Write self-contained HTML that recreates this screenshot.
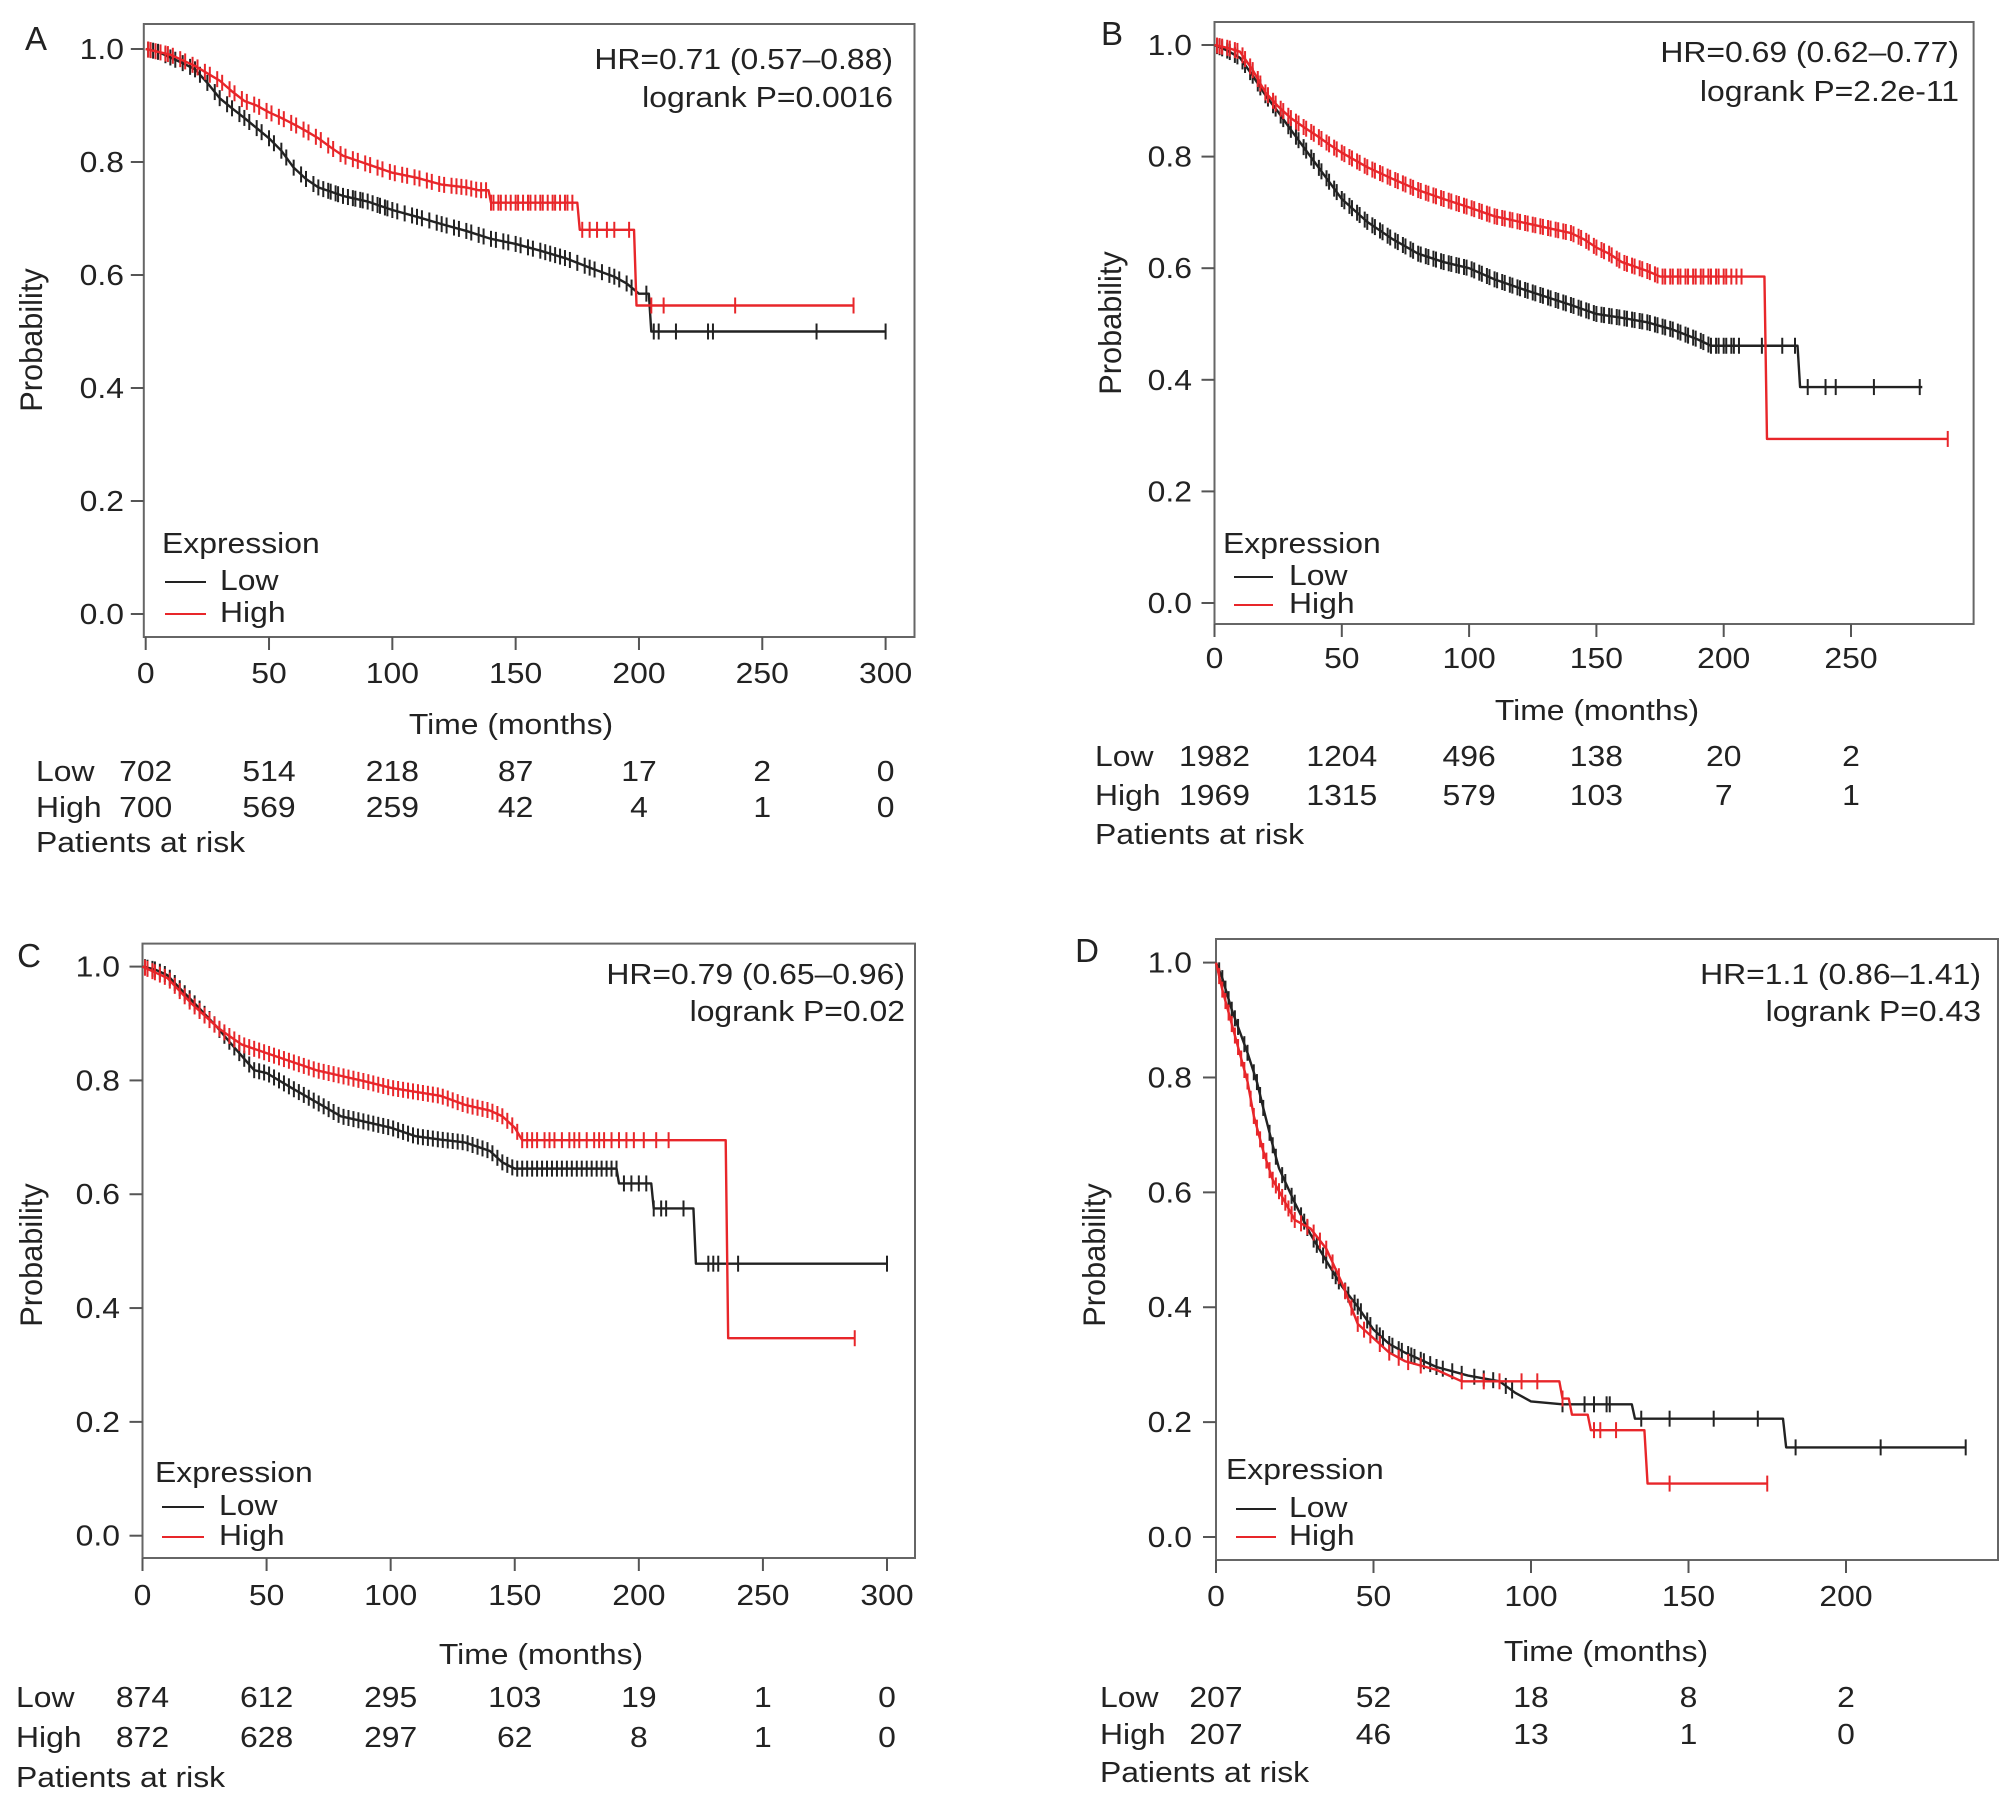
<!DOCTYPE html>
<html><head><meta charset="utf-8">
<style>
html,body{margin:0;padding:0;background:#fff;}
svg{display:block;}
text{font-family:"Liberation Sans",Arial,sans-serif;font-size:29px;fill:#222;}
</style></head>
<body>
<svg id="fig" xmlns="http://www.w3.org/2000/svg" width="2008" height="1818" viewBox="0 0 2008 1818"></svg>
<script>
// ---------- DATA ----------
// Panel A
const aLowT = [0,5,10,15,20,25,30,35,40,45,50,55,60,65,70,80,90,100,110,120,130,140,150,160,170,180,190,195,200,204,205,300];
const aLowS = [1,0.995,0.985,0.975,0.964,0.94,0.913,0.895,0.878,0.86,0.842,0.82,0.79,0.77,0.755,0.74,0.73,0.715,0.703,0.69,0.678,0.664,0.655,0.643,0.63,0.613,0.597,0.585,0.567,0.567,0.50,0.50];
const aHighT = [0,5,10,15,20,25,30,35,40,45,50,55,60,65,70,75,80,90,100,110,120,130,135,139,140,175,176,198,199,287];
const aHighS = [1,0.995,0.99,0.98,0.97,0.957,0.944,0.925,0.908,0.9,0.888,0.878,0.867,0.855,0.842,0.826,0.811,0.796,0.781,0.772,0.76,0.755,0.75,0.75,0.728,0.728,0.68,0.68,0.546,0.546];
const aLowC = [1,3,5,8,10,12,15,18,20,22,25,28,30,33,35,38,40,42,45,47,50,52,55,57,60,63,65,68,70,72,74,75,77,78,80,82,84,85,87,88,90,92,94,95,97,98,100,102,105,108,110,112,115,118,120,122,125,127,130,132,135,137,140,142,145,147,150,152,155,157,160,162,164,166,168,170,172,175,178,180,182,185,188,190,192,195,197,203,206,208,215,228,230,272,300];
const aHighC = [1,2,4,6,8,9,11,14,16,19,21,24,26,29,31,34,36,39,41,44,46,49,51,54,56,59,61,64,66,69,71,74,76,79,81,84,86,89,91,94,96,99,101,104,106,109,111,114,116,119,121,124,126,128,130,132,134,136,138,140,141,143,144,146,148,150,151,153,155,156,158,160,161,163,165,166,168,170,171,173,177,180,183,187,190,196,205,210,239,287];
const aRiskLow = ["702","514","218","87","17","2","0"];
const aRiskHigh = ["700","569","259","42","4","1","0"];
const aXTicks = [0,50,100,150,200,250,300];
// Panel B
const bLowT = [0,5,10,15,20,25,30,35,40,45,50,60,70,80,90,100,110,120,130,140,150,160,170,180,190,195,229,230,278];
const bLowS = [1,0.99,0.977,0.945,0.91,0.88,0.848,0.817,0.786,0.755,0.724,0.683,0.652,0.626,0.611,0.6,0.58,0.564,0.549,0.534,0.518,0.511,0.503,0.49,0.472,0.461,0.461,0.387,0.387];
const bHighT = [0,5,10,15,20,25,30,35,40,45,50,60,70,80,90,100,110,120,130,140,145,150,155,160,170,175,216,217,288];
const bHighS = [1,0.995,0.988,0.955,0.915,0.89,0.869,0.853,0.838,0.822,0.807,0.781,0.76,0.74,0.724,0.709,0.693,0.683,0.673,0.663,0.652,0.637,0.626,0.611,0.595,0.585,0.585,0.294,0.294];
const bLowC = [1,2,3,5,6,8,9,11,12,14,15,17,18,20,21,23,24,26,27,29,30,32,33,35,36,38,39,41,42,44,45,47,48,50,51,53,54,56,57,59,60,62,63,65,66,68,69,71,72,74,75,77,78,80,81,83,84,86,87,89,90,92,93,95,96,98,99,101,102,104,105,107,108,110,111,113,114,116,117,119,120,122,123,125,126,128,129,131,132,134,135,137,138,140,141,143,144,146,147,149,150,152,153,155,156,158,159,161,162,164,165,167,168,170,171,173,174,176,177,179,180,182,183,185,186,188,189,191,192,194,195,197,198,200,201,203,204,206,215,223,228,233,240,244,259,277];
const bHighC = [1,2,3,5,6,8,9,11,12,14,15,17,18,20,21,23,24,26,27,29,30,32,33,35,36,38,39,41,42,44,45,47,48,50,51,53,54,56,57,59,60,62,63,65,66,68,69,71,72,74,75,77,78,80,81,83,84,86,87,89,90,92,93,95,96,98,99,101,102,104,105,107,108,110,111,113,114,116,117,119,120,122,123,125,126,128,129,131,132,134,135,137,138,140,141,143,144,146,147,149,150,152,153,155,156,158,159,161,162,164,165,167,168,170,171,173,174,176,177,179,180,182,183,185,186,188,189,191,192,194,195,197,198,200,201,203,205,207,288];
const bRiskLow = ["1982","1204","496","138","20","2"];
const bRiskHigh = ["1969","1315","579","103","7","1"];
const bXTicks = [0,50,100,150,200,250];
// Panel C
const cLowT = [0,5,10,15,20,25,30,35,40,45,50,60,70,80,90,100,110,120,130,140,145,150,191,192,205,206,222,223,300];
const cLowS = [1,0.995,0.985,0.962,0.94,0.917,0.894,0.868,0.843,0.818,0.813,0.787,0.762,0.737,0.727,0.717,0.702,0.696,0.691,0.676,0.656,0.645,0.645,0.619,0.619,0.575,0.575,0.478,0.478];
const cHighT = [0,5,10,15,20,25,30,35,40,50,60,70,80,90,100,110,120,130,140,145,150,153,235,236,287];
const cHighS = [1,0.99,0.98,0.957,0.934,0.914,0.894,0.878,0.863,0.848,0.833,0.818,0.808,0.798,0.787,0.78,0.773,0.757,0.747,0.737,0.717,0.695,0.695,0.347,0.347];
const cLowC = [1,2,4,5,7,9,11,13,15,17,19,21,23,25,27,29,31,33,35,37,39,41,43,45,47,49,51,53,55,57,59,61,63,65,67,69,71,73,75,77,79,81,83,85,87,89,91,93,95,97,99,101,103,105,107,109,111,113,115,117,119,121,123,125,127,129,131,133,135,137,139,141,143,145,147,149,151,153,155,157,159,161,163,165,167,169,171,173,175,177,179,181,183,185,187,189,191,194,197,200,203,206,209,211,218,228,230,232,240,300];
const cHighC = [1,2,4,5,7,9,11,13,15,17,19,21,23,25,27,29,31,33,35,37,39,41,43,45,47,49,51,53,55,57,59,61,63,65,67,69,71,73,75,77,79,81,83,85,87,89,91,93,95,97,99,101,103,105,107,109,111,113,115,117,119,121,123,125,127,129,131,133,135,137,139,141,143,145,147,149,151,153,155,157,159,162,164,166,169,172,174,176,179,182,184,186,189,192,195,198,202,207,212,287];
const cRiskLow = ["874","612","295","103","19","1","0"];
const cRiskHigh = ["872","628","297","62","8","1","0"];
const cXTicks = [0,50,100,150,200,250,300];
// Panel D
const dLowT = [0,2,5,8,10,13,15,18,20,25,30,35,40,45,50,55,60,70,80,90,95,100,110,132,133,180,181,238];
const dLowS = [1,0.973,0.918,0.873,0.843,0.792,0.747,0.682,0.642,0.582,0.527,0.481,0.436,0.401,0.361,0.336,0.321,0.296,0.281,0.271,0.251,0.236,0.231,0.231,0.206,0.206,0.156,0.156];
const dHighT = [0,2,5,8,10,12,15,18,20,25,30,35,40,45,50,55,60,70,78,109,110,112,113,118,119,136,137,175];
const dHighS = [1,0.953,0.893,0.833,0.793,0.733,0.672,0.622,0.602,0.552,0.537,0.502,0.442,0.371,0.346,0.321,0.306,0.291,0.271,0.271,0.241,0.241,0.213,0.213,0.186,0.186,0.093,0.093];
const dLowC = [1,2,3,4,5,6,7,9,10,12,13,14,15,17,18,19,21,22,24,25,27,28,29,31,32,34,35,37,38,39,41,42,44,45,46,48,49,51,52,53,55,56,58,59,61,62,63,65,66,68,70,72,75,78,82,85,88,92,94,110,117,120,124,125,135,144,158,172,184,211,238];
const dHighC = [1,2,3,4,5,6,7,8,9,10,11,12,13,14,15,16,17,18,19,20,21,22,23,24,25,27,29,31,33,35,37,39,41,43,45,47,49,52,55,58,61,65,78,85,90,97,102,110,120,122,127,144,175];
const dRiskLow = ["207","52","18","8","2"];
const dRiskHigh = ["207","46","13","1","0"];
const dXTicks = [0,50,100,150,200];
const yTicks = [0,0.2,0.4,0.6,0.8,1.0];
const yTickLabels = ["0.0","0.2","0.4","0.6","0.8","1.0"];

// ---------- LAYOUT ----------
const NS = "http://www.w3.org/2000/svg";
const fig = document.getElementById('fig');
const RED = "#e8262a", BLK = "#222";

const panels = [
 {id:'a', letter:'A', x0:145.7, x1:885.6, xMaxTick:300, y1:49, y0:614, box:[143.8,24,914.5,637], ylabR:124, probX:32, probY:340, letterPos:[36,50], hrR:893, hrY:69, lrY:107, expX:162, expY:553, legL:165, legR:206, legTX:220, lowY:590, highY:622, timeX:511, timeY:734, riskY:[781,817,852], riskLX:36, tickY:683,
  lowT:aLowT, lowS:aLowS, highT:aHighT, highS:aHighS, lowC:aLowC, highC:aHighC, riskLow:aRiskLow, riskHigh:aRiskHigh, xt:aXTicks, hr:"HR=0.71 (0.57\u20130.88)", lr:"logrank P=0.0016"},
 {id:'b', letter:'B', x0:1214.5, x1:1851, xMaxTick:250, y1:45, y0:603, box:[1214.5,22,1973.6,624], ylabR:1192, probX:1111, probY:323, letterPos:[1112,45], hrR:1959, hrY:62, lrY:101, expX:1223, expY:553, legL:1234, legR:1273, legTX:1289, lowY:585, highY:613, timeX:1597, timeY:720, riskY:[766,805,844], riskLX:1095, tickY:668,
  lowT:bLowT, lowS:bLowS, highT:bHighT, highS:bHighS, lowC:bLowC, highC:bHighC, riskLow:bRiskLow, riskHigh:bRiskHigh, xt:bXTicks, hr:"HR=0.69 (0.62\u20130.77)", lr:"logrank P=2.2e-11"},
 {id:'c', letter:'C', x0:142.5, x1:887, xMaxTick:300, y1:966.6, y0:1535.7, box:[142.5,943.6,915,1558], ylabR:120, probX:32, probY:1255, letterPos:[29,967], hrR:905, hrY:984, lrY:1021, expX:155, expY:1482, legL:162, legR:204, legTX:219, lowY:1515, highY:1545, timeX:541, timeY:1664, riskY:[1707,1747,1787], riskLX:16, tickY:1605,
  lowT:cLowT, lowS:cLowS, highT:cHighT, highS:cHighS, lowC:cLowC, highC:cHighC, riskLow:cRiskLow, riskHigh:cRiskHigh, xt:cXTicks, hr:"HR=0.79 (0.65\u20130.96)", lr:"logrank P=0.02"},
 {id:'d', letter:'D', x0:1216, x1:1846, xMaxTick:200, y1:962.6, y0:1537, box:[1216,939,1998,1560], ylabR:1192, probX:1095, probY:1255, letterPos:[1087,962], hrR:1981, hrY:984, lrY:1021, expX:1226, expY:1479, legL:1236, legR:1276, legTX:1289, lowY:1517, highY:1545, timeX:1606, timeY:1661, riskY:[1707,1744,1782], riskLX:1100, tickY:1606,
  lowT:dLowT, lowS:dLowS, highT:dHighT, highS:dHighS, lowC:dLowC, highC:dHighC, riskLow:dRiskLow, riskHigh:dRiskHigh, xt:dXTicks, hr:"HR=1.1 (0.86\u20131.41)", lr:"logrank P=0.43"}
];

function el(tag, attrs, parent){
  const e = document.createElementNS(NS, tag);
  for (const k in attrs) e.setAttribute(k, attrs[k]);
  parent.appendChild(e);
  return e;
}
function txt(parent, x, y, s, anchor, sx){
  const t = document.createElementNS(NS,'text');
  t.setAttribute('transform','translate('+x+','+y+') scale('+(sx||1.1)+',1)');
  t.setAttribute('text-anchor', anchor||'start');
  t.textContent = s;
  parent.appendChild(t);
  return t;
}
function interp(T,S,t){
  if (t <= T[0]) return S[0];
  for (let i=1;i<T.length;i++){
    if (t <= T[i]){
      const dt = T[i]-T[i-1];
      if (dt <= 0) return S[i];
      return S[i-1] + (S[i]-S[i-1])*(t-T[i-1])/dt;
    }
  }
  return S[S.length-1];
}

panels.forEach(p=>{
  const g = el('g',{},fig);
  
  
  const xs = t => p.x0 + (p.x1-p.x0)*t/p.xMaxTick;
  const ys = v => p.y0 + (p.y1-p.y0)*v;

  const box = el('rect',{x:p.box[0],y:p.box[1],width:p.box[2]-p.box[0],height:p.box[3]-p.box[1],fill:'none',stroke:'#666','stroke-width':2},g);
  
  

  const L = document.createElementNS(NS,'text');
  L.setAttribute('x',p.letterPos[0]); L.setAttribute('y',p.letterPos[1]);
  L.setAttribute('text-anchor','middle');
  L.setAttribute('style','font-size:33px');
  L.textContent = p.letter;
  g.appendChild(L);
  
  

  // y axis
  const ya = el('g',{},g);
  
  
  yTicks.forEach((v,i)=>{
    el('line',{x1:p.box[0]-13,x2:p.box[0],y1:ys(v),y2:ys(v),stroke:'#555','stroke-width':2},ya);
    const t = txt(ya,p.ylabR,ys(v)+10,yTickLabels[i],'end');
    
    
  });
  const pt = document.createElementNS(NS,'text');
  pt.setAttribute('transform','translate('+(p.probX+10)+','+p.probY+') rotate(-90) scale(1.06,1.1)');
  pt.setAttribute('text-anchor','middle');
  pt.textContent='Probability';
  ya.appendChild(pt);
  
  

  // x axis
  const xa = el('g',{},g);
  
  
  p.xt.forEach(v=>{
    el('line',{x1:xs(v),x2:xs(v),y1:p.box[3],y2:p.box[3]+13,stroke:'#555','stroke-width':2},xa);
    const t = txt(xa,xs(v),p.tickY,String(v),'middle');
    
    
  });
  const tt = txt(xa,p.timeX,p.timeY,'Time (months)','middle');
  
  

  // curves
  function curve(T,S,C,color,name){
    const cg = el('g',{},g);
    
    
    let d = 'M'+xs(T[0])+','+ys(S[0]);
    for (let i=1;i<T.length;i++){
      d += ' L'+xs(T[i])+','+ys(S[i]);
    }
    el('path',{d:d,fill:'none',stroke:color,'stroke-width':2.4,'stroke-linejoin':'round'},cg);
    C.forEach(c=>{
      const v = interp(T,S,c);
      const m = el('line',{x1:xs(c),x2:xs(c),y1:ys(v)-8,y2:ys(v)+8,stroke:color,'stroke-width':2},cg);
      
      
    });
  }
  curve(p.lowT,p.lowS,p.lowC,BLK,'low-expression-curve');
  curve(p.highT,p.highS,p.highC,RED,'high-expression-curve');

  // stats
  const h1 = txt(g,p.hrR,p.hrY,p.hr,'end');
  
  
  const h2 = txt(g,p.hrR,p.lrY,p.lr,'end');
  
  

  // legend
  const lg = el('g',{},g);
  
  
  txt(lg,p.expX,p.expY,'Expression','start');
  const le1 = el('g',{},lg);
  
  
  el('line',{x1:p.legL,x2:p.legR,y1:p.lowY-8,y2:p.lowY-8,stroke:BLK,'stroke-width':2},le1);
  txt(le1,p.legTX,p.lowY,'Low','start');
  const le2 = el('g',{},lg);
  
  
  el('line',{x1:p.legL,x2:p.legR,y1:p.highY-8,y2:p.highY-8,stroke:RED,'stroke-width':2},le2);
  txt(le2,p.legTX,p.highY,'High','start');

  // risk table
  const rt = el('g',{},g);
  
  
  txt(rt,p.riskLX,p.riskY[0],'Low','start');
  txt(rt,p.riskLX,p.riskY[1],'High','start');
  txt(rt,p.riskLX,p.riskY[2],'Patients at risk','start');
  p.xt.forEach((v,i)=>{
    if (i < p.riskLow.length){
      const a = txt(rt,xs(v),p.riskY[0],p.riskLow[i],'middle');
      
      
      const b = txt(rt,xs(v),p.riskY[1],p.riskHigh[i],'middle');
      
      
    }
  });
});
</script>
</body></html>
